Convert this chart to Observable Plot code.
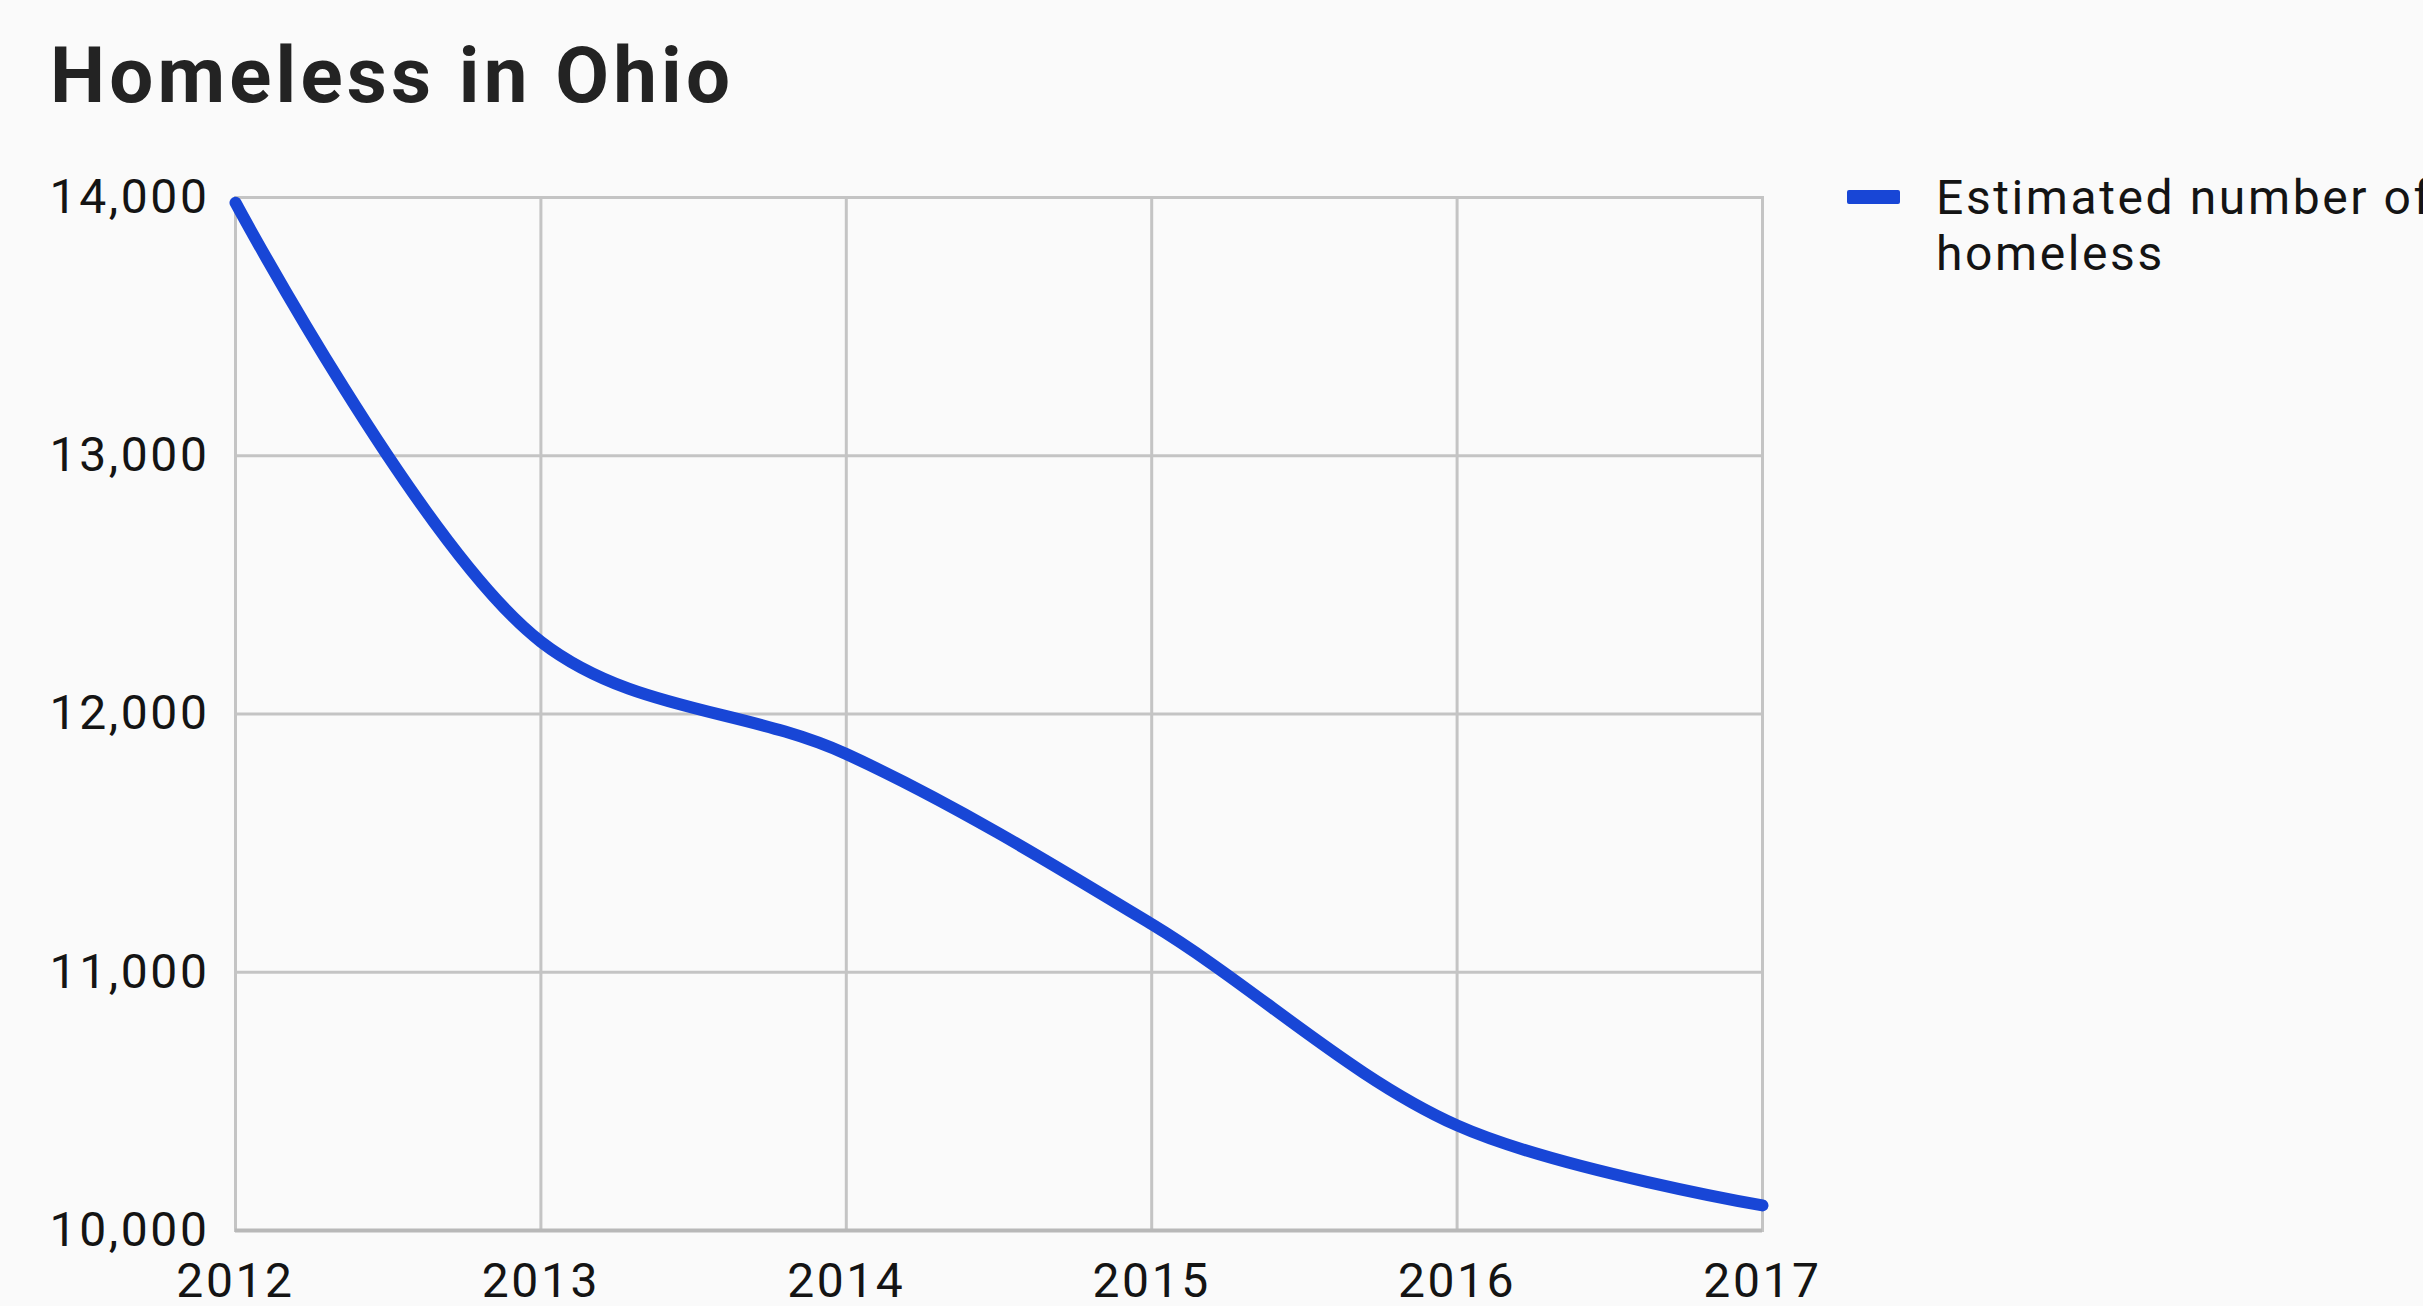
<!DOCTYPE html>
<html>
<head>
<meta charset="utf-8">
<script src="https://cdn.jsdelivr.net/npm/d3@7"></script>
<script src="https://cdn.jsdelivr.net/npm/@observablehq/plot@0.6"></script>
<style>
  html, body { margin: 0; padding: 0; background: #fafafa; width: 2423px; height: 1306px; overflow: hidden; font-family: Roboto, "Noto Sans", sans-serif; }
  #title { position: absolute; left: 50px; top: 30px; font-size: 78px; font-weight: 700; color: #232323; letter-spacing: 4.2px; }
  #chart { position: absolute; left: 0; top: 150px; }
  #chart svg text { letter-spacing: 2.6px; }
  #legend { position: absolute; left: 1847px; top: 170px; display: flex; align-items: flex-start; font-size: 48px; color: #141414; line-height: 56px; white-space: nowrap; letter-spacing: 2.6px; }
  #legend .swatch { width: 53px; height: 14px; background: #1846d6; margin-top: 20px; margin-right: 36px; border-radius: 2px; }
</style>
</head>
<body>
<div id="title">Homeless in Ohio</div>
<div id="chart"></div>
<div id="legend"><div class="swatch"></div><div>Estimated number of<br>homeless</div></div>
<script>
const years = [2012, 2013, 2014, 2015, 2016, 2017];
const homeless = [13980, 12280, 11845, 11186, 10407, 10097];
const yTicks = [10000, 11000, 12000, 13000, 14000];
const seriesName = "Estimated number of homeless";

const data = years.map((yr, i) => ({year: yr, value: homeless[i]}));

const gridColor = "#c4c4c4";
const chart = Plot.plot({
  width: 2423,
  height: 1156,
  marginLeft: 235,
  marginRight: 661,
  marginTop: 47,
  marginBottom: 76,
  style: {background: "transparent", fontFamily: "Roboto, 'Noto Sans', sans-serif", fontSize: "48px", color: "#141414"},
  x: {domain: [2012, 2017], ticks: years, tickFormat: d => String(d), label: null},
  y: {domain: [10000, 14000], ticks: yTicks, tickFormat: d3.format(","), label: null},
  marks: [
    Plot.gridX(years, {stroke: gridColor, strokeOpacity: 1, strokeWidth: 3}),
    Plot.gridY(yTicks, {stroke: gridColor, strokeOpacity: 1, strokeWidth: 3}),
    Plot.frame({stroke: gridColor, strokeWidth: 3}),
    Plot.ruleY([10000], {stroke: "#b8b8b8", strokeWidth: 4}),
    Plot.axisX(years, {tickSize: 0, tickPadding: 32, tickFormat: d => String(d), fontSize: 48, fill: "#141414"}),
    Plot.axisY(yTicks, {tickSize: 0, tickPadding: 26, tickFormat: d3.format(","), fontSize: 48, fill: "#141414"}),
    Plot.line(data, {x: "year", y: "value", stroke: "#1846d6", strokeWidth: 12, curve: "catmull-rom", title: () => seriesName})
  ]
});
document.getElementById("chart").appendChild(chart);
</script>
</body>
</html>
